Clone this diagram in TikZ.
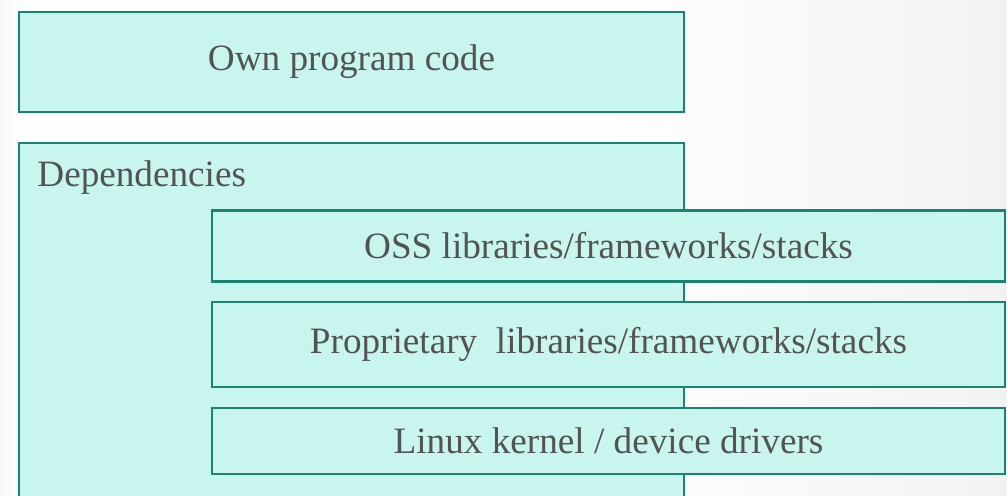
\documentclass[tikz,border=0pt]{standalone}
\usepackage{fontspec}
\setmainfont{Liberation Serif}
\usepackage{tikz}
\usetikzlibrary{positioning}
\definecolor{boxfill}{HTML}{C9F5EF}
\definecolor{boxline}{HTML}{1A8473}
\definecolor{textgray}{HTML}{535353}

\begin{document}
\begin{tikzpicture}
    [
    x=0.5pt, y=-0.5pt,
    layer/.style={rectangle,draw=boxline,fill=boxfill,line width=1.2pt,
      text=textgray,font=\fontsize{18.6}{22}\selectfont},
    wide/.style={minimum width=332.5pt},
    inner/.style={minimum width=396.5pt},
    ]
    \clip (0,0) rectangle (1007,496);
    \fill [white] (0,0) rectangle (1007,496);
    \fill [left color=white, right color=black!5] (600,0) rectangle (1007,496);
    \fill [left color=black!3, right color=white] (0,0) rectangle (20,496);

    \node (own) at (351.5,62) [layer, wide, minimum height=50pt] {Own program code};
    \node (deps) at (351.5,341.5) [layer, wide, minimum height=198.5pt] {};
    \node (depslabel) at (37,187) [anchor=base west, text=textgray,
      font=\fontsize{18.6}{22}\selectfont, inner sep=0pt] {Dependencies};

    \node (oss) at (608.5,246) [layer, inner, minimum height=35.5pt] {OSS libraries/frameworks/stacks};
    \node (prop) at (608.5,344.5) [layer, inner, minimum height=42.5pt] {Proprietary\ \ libraries/frameworks/stacks};
    \node (kernel) at (608.5,441) [layer, inner, minimum height=33pt] {Linux kernel / device drivers};
  \end{tikzpicture}
\end{document}
